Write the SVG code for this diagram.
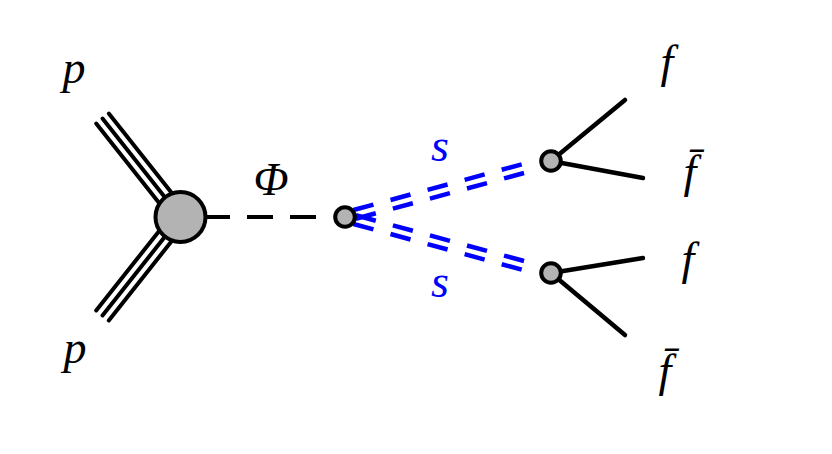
<svg xmlns="http://www.w3.org/2000/svg" width="832" height="454" viewBox="0 0 832 454">
<style>
.k{stroke:#000;stroke-width:4;fill:none;stroke-linecap:round}
.ph{stroke:#000;stroke-width:4;fill:none;stroke-dasharray:26 17}
.s{stroke:#0000ff;stroke-width:4.5;fill:none;stroke-dasharray:20.7 17.7}
.f{stroke:#000;stroke-width:4.5;fill:none;stroke-linecap:round}
.v{fill:#b3b3b3;stroke:#000;stroke-width:4}
.t{font-family:"Liberation Serif","Times New Roman",serif;font-style:italic;font-size:46px;text-anchor:middle;fill:#000}
.b{fill:#0000ff}
</style>
<rect width="832" height="454" fill="#fff"/>
<g id="connectors">
<g id="proton-top">
<line class="k" x1="96.2" y1="123.5" x2="174.2" y2="222"/>
<line class="k" x1="102.5" y1="118.5" x2="180.5" y2="217"/>
<line class="k" x1="108.8" y1="113.5" x2="186.8" y2="212"/>
</g>
<g id="proton-bottom">
<line class="k" x1="96.2" y1="310.5" x2="174.2" y2="212"/>
<line class="k" x1="102.5" y1="315.5" x2="180.5" y2="217"/>
<line class="k" x1="108.8" y1="320.5" x2="186.8" y2="222"/>
</g>
<line id="phi-line" class="ph" x1="204" y1="217" x2="320" y2="217"/>
<g id="s-top" transform="translate(345,217) rotate(-15.2)">
<line class="s" x1="10" y1="-4.5" x2="184.3" y2="-4.5"/>
<line class="s" x1="10" y1="4.5" x2="184.3" y2="4.5"/>
</g>
<g id="s-bottom" transform="translate(345,217) rotate(15.2)">
<line class="s" x1="10" y1="-4.5" x2="184.3" y2="-4.5"/>
<line class="s" x1="10" y1="4.5" x2="184.3" y2="4.5"/>
</g>
<line class="f" x1="551" y1="161" x2="625" y2="100"/>
<line class="f" x1="551" y1="161" x2="643" y2="178"/>
<line class="f" x1="551" y1="273" x2="643" y2="258"/>
<line class="f" x1="551" y1="273" x2="625" y2="335"/>
</g>
<g id="pp-vertex"><circle class="v" cx="180.5" cy="217" r="25"/></g>
<g id="phi-vertex"><circle class="v" cx="345" cy="217" r="9.8"/></g>
<g id="s1-vertex"><circle class="v" cx="551" cy="161" r="9.8"/></g>
<g id="s2-vertex"><circle class="v" cx="551" cy="273" r="9.8"/></g>
<g id="labels">
<text class="t" x="74" y="83">p</text>
<text class="t" x="75" y="363">p</text>
<text class="t" x="271" y="195">Φ</text>
<text class="t b" x="440" y="161">s</text>
<text class="t b" x="440" y="297">s</text>
<text class="t" x="667" y="77">f</text>
<text class="t" x="690" y="187">f̄</text>
<text class="t" x="688" y="274">f</text>
<text class="t" x="665" y="386">f̄</text>
</g>
</svg>
